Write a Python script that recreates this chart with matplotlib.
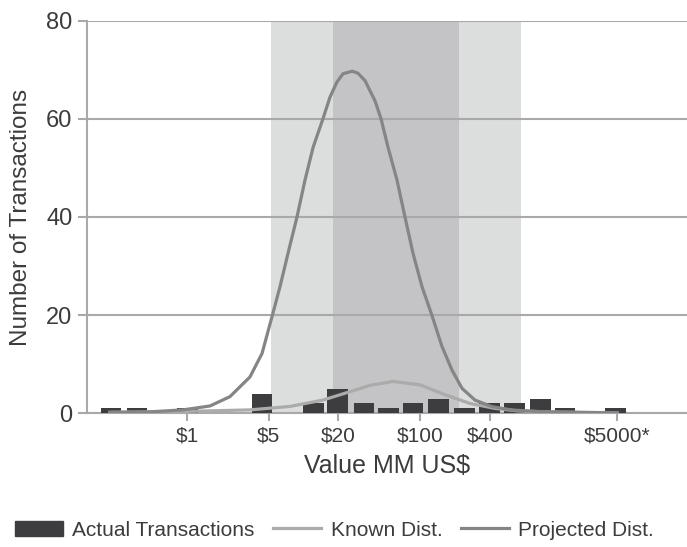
''' Deal value distribution: actual transactions vs known / projected curves '''

import matplotlib
matplotlib.use('Agg')
import matplotlib.pyplot as plt
from matplotlib.patches import Patch
from matplotlib.lines import Line2D

plt.rcParams['font.family'] = ['Liberation Sans', 'DejaVu Sans']

# data (x in MM US$, log axis)
bar_values = [0.22, 0.37, 1.0, 4.4, 12.2, 19.6, 33, 54, 88, 145, 243, 400, 655, 1100, 1780, 4850]
bar_counts = [1, 1, 1, 4, 2, 5, 2, 1, 2, 3, 1, 2, 2, 3, 1, 1]

known_x = [0.216, 0.865, 3.46, 7.65, 14.7, 25.1, 37.4, 58.9, 100.6, 165, 271, 445, 688, 1322, 5000]
known_y = [0.2, 0.35, 0.7, 1.4, 2.7, 4.4, 5.7, 6.5, 5.8, 3.8, 2.0, 1.0, 0.5, 0.25, 0.1]

proj_x = [0.216, 0.478, 0.918, 1.57, 2.33, 3.46, 4.40, 5.36, 6.28, 7.36, 8.79, 10.3, 12.1,
          14.7, 16.9, 19.4, 21.9, 26.2, 29.4, 33.8, 41.2, 46.5, 53.4, 63.8, 74.7, 87.6, 104.7,
          127.6, 155.6, 189.7, 231, 299, 419, 623, 1085, 2396, 5000]
proj_y = [0.2, 0.3, 0.7, 1.5, 3.4, 7.4, 12.2, 19.7, 25.8, 32.6, 40, 47.5, 54.2,
          60, 64.4, 67.5, 69.2, 69.7, 69.3, 67.8, 63.7, 60, 54.2, 47.5, 40, 32.6, 25.8,
          19.9, 13.6, 8.8, 5.1, 2.7, 1.35, 0.67, 0.35, 0.2, 0.1]

outer_band = [5.25, 745]
inner_band = [17.8, 218]

tick_values = [1, 5, 20, 100, 400, 5000]
tick_labels = ['$1', '$5', '$20', '$100', '$400', '$5000*']

# colours
TEXT = '#3c3c3c'
GRID = '#a9a9ac'
BAR = '#3d3d3f'
KNOWN = '#ababab'
PROJ = '#858585'

fig = plt.figure(figsize=(6.87, 5.47), dpi=100)
ax = fig.add_axes([0.1266, 0.2444, 0.8734, 0.7178])
ax.set_xscale('log')

ax.axvspan(outer_band[0], outer_band[1], color='#dcdddd', lw=0, zorder=0)
ax.axvspan(inner_band[0], inner_band[1], color='#c4c4c6', lw=0, zorder=0.5)

# bars have constant width on the log axis
half = 1.225
lefts = [v / half for v in bar_values]
widths = [v * half - v / half for v in bar_values]
ax.bar(lefts, bar_counts, width=widths, align='edge', color=BAR, zorder=3)

ax.plot(known_x, known_y, color=KNOWN, lw=2.3, zorder=4, solid_joinstyle='round')
ax.plot(proj_x, proj_y, color=PROJ, lw=2.3, zorder=5, solid_joinstyle='round')

ax.set_xlim(10 ** -0.863, 10 ** 4.30)
ax.set_ylim(0, 80)
ax.set_yticks([0, 20, 40, 60, 80])
ax.set_xticks(tick_values)
ax.set_xticklabels(tick_labels)
ax.xaxis.set_minor_locator(matplotlib.ticker.NullLocator())

ax.yaxis.grid(True, color=GRID, lw=1.5)
ax.set_axisbelow(False)
for gl in ax.get_ygridlines():
    gl.set_zorder(1)

for side in ['top', 'right']:
    ax.spines[side].set_visible(False)
for side in ['left', 'bottom']:
    ax.spines[side].set_color(GRID)
    ax.spines[side].set_linewidth(1.5)
    ax.spines[side].set_zorder(2)

ax.tick_params(axis='y', length=6.5, width=1.5, color=GRID, labelsize=17, labelcolor=TEXT, pad=4)
ax.tick_params(axis='x', length=5.5, width=1.5, color=GRID, labelsize=15, labelcolor=TEXT, pad=4)

ax.set_ylabel('Number of Transactions', fontsize=17.5, color=TEXT, va='center')
ax.yaxis.set_label_coords(-0.11, 0.5)
ax.set_xlabel('Value MM US$', fontsize=18, color=TEXT, va='center')
ax.xaxis.set_label_coords(0.5, -0.134)

handles = [Patch(color=BAR), Line2D([], [], color=KNOWN, lw=2.3), Line2D([], [], color=PROJ, lw=2.3)]
labels = ['Actual Transactions', 'Known Dist.', 'Projected Dist.']
fig.legend(handles, labels, loc='center', bbox_to_anchor=(0.487, 0.031), ncol=3, frameon=False,
           fontsize=15, handlelength=2.3, handletextpad=0.45, columnspacing=0.9, labelcolor=TEXT)

fig.savefig('out.png', dpi=100)
